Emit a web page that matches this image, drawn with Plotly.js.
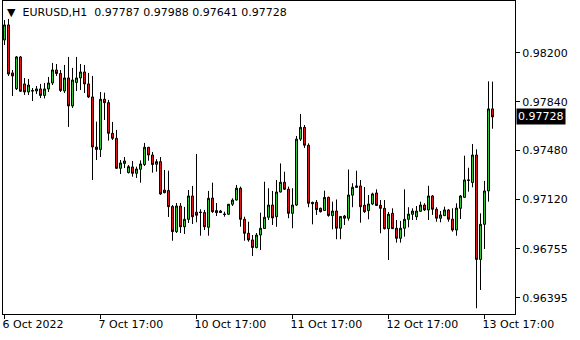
<!DOCTYPE html>
<html>
<head>
<meta charset="utf-8">
<script src="https://cdn.plot.ly/plotly-3.0.1.min.js"></script>
<style>html,body{margin:0;padding:0;background:#fff;}#chart{width:580px;height:340px;}</style>
</head>
<body>
<div id="chart"></div>
<script>
const symbolTitle = "EURUSD,H1";
const lastBar = ["0.97787", "0.97988", "0.97641", "0.97728"];

const openP = [0.98295,0.98406,0.98052,0.97936,0.98170,0.97971,0.97912,0.97923,0.97919,0.97934,
0.97886,0.97934,0.97978,0.98074,0.98048,0.97919,0.98015,0.97809,0.97982,0.98015,
0.98059,0.97971,0.97875,0.97506,0.97488,0.97858,0.97833,0.97607,0.97570,0.97349,
0.97385,0.97317,0.97359,0.97312,0.97342,0.97377,0.97504,0.97447,0.97379,0.97398,
0.97189,0.97185,0.97067,0.96882,0.97071,0.96918,0.96973,0.97145,0.97025,0.97027,
0.97023,0.96914,0.97130,0.97037,0.97034,0.97012,0.97010,0.97084,0.97115,0.97202,
0.96973,0.96870,0.96821,0.96765,0.96857,0.96905,0.96988,0.97078,0.96992,0.97174,
0.97246,0.97195,0.97017,0.97078,0.97564,0.97651,0.97519,0.97098,0.97098,0.97054,
0.97038,0.97135,0.97000,0.97034,0.96907,0.96997,0.96981,0.97151,0.97208,0.97219,
0.97077,0.97037,0.97086,0.97167,0.97076,0.97054,0.96904,0.97017,0.96907,0.96833,
0.96907,0.96973,0.97010,0.96992,0.97032,0.97078,0.97042,0.97145,0.97047,0.96981,
0.97000,0.97042,0.96974,0.96894,0.97054,0.97135,0.97259,0.97244,0.97447,0.96677,
0.96936,0.97182,0.97787];

const highP = [0.98442,0.98450,0.98074,0.98177,0.98177,0.98015,0.98008,0.97941,0.97956,0.97971,
0.97978,0.98022,0.98126,0.98118,0.98074,0.98111,0.98170,0.98089,0.98170,0.98118,
0.98111,0.98052,0.98030,0.97693,0.97912,0.97907,0.97853,0.97691,0.97632,0.97410,
0.97432,0.97373,0.97403,0.97361,0.97407,0.97536,0.97506,0.97469,0.97416,0.97432,
0.97337,0.97331,0.97078,0.97093,0.97093,0.97064,0.97189,0.97219,0.97455,0.97047,
0.97042,0.97182,0.97243,0.97093,0.97042,0.97029,0.97086,0.97128,0.97226,0.97214,
0.96992,0.96955,0.96857,0.96872,0.97022,0.97250,0.97202,0.97182,0.97263,0.97385,
0.97324,0.97214,0.97202,0.97587,0.97750,0.97668,0.97533,0.97103,0.97115,0.97059,
0.97184,0.97140,0.97103,0.97119,0.96997,0.97005,0.97340,0.97239,0.97331,0.97263,
0.97211,0.97152,0.97169,0.97194,0.97115,0.97115,0.97027,0.97054,0.96968,0.96961,
0.97194,0.97062,0.97054,0.97071,0.97103,0.97091,0.97220,0.97152,0.97062,0.97034,
0.97066,0.97049,0.97054,0.97091,0.97152,0.97442,0.97353,0.97528,0.97489,0.97017,
0.97256,0.97990,0.97988];

const lowP = [0.98258,0.98030,0.97882,0.97926,0.97912,0.97890,0.97890,0.97845,0.97897,0.97867,
0.97864,0.97912,0.97963,0.98030,0.97912,0.97904,0.97654,0.97794,0.97919,0.97926,
0.97904,0.97867,0.97263,0.97410,0.97432,0.97705,0.97553,0.97558,0.97344,0.97307,
0.97351,0.97311,0.97287,0.97278,0.97243,0.97366,0.97405,0.97317,0.97324,0.97152,
0.97165,0.96990,0.96815,0.96872,0.96872,0.96865,0.96946,0.96938,0.96951,0.96852,
0.96894,0.96852,0.97020,0.96997,0.97020,0.96992,0.97005,0.97071,0.97112,0.96918,
0.96815,0.96808,0.96703,0.96759,0.96747,0.96902,0.96968,0.96931,0.96918,0.97171,
0.97189,0.96981,0.96907,0.97071,0.97550,0.97499,0.97062,0.96936,0.97005,0.97023,
0.97034,0.96992,0.96899,0.96826,0.96826,0.96931,0.96963,0.97062,0.97204,0.96948,
0.97020,0.96973,0.97078,0.97071,0.96870,0.96898,0.96673,0.96902,0.96801,0.96801,
0.96845,0.96914,0.96968,0.96968,0.97027,0.97034,0.96968,0.97005,0.96955,0.96951,
0.96997,0.96955,0.96882,0.96852,0.96975,0.97130,0.97177,0.97209,0.96317,0.96452,
0.96754,0.97103,0.97641];

const closeP = [0.98406,0.98044,0.98030,0.98170,0.97917,0.97912,0.97963,0.97919,0.97934,0.97886,
0.97934,0.97978,0.98074,0.98048,0.97923,0.98015,0.97809,0.98000,0.98015,0.98059,
0.97971,0.97875,0.97506,0.97488,0.97858,0.97833,0.97607,0.97570,0.97349,0.97388,
0.97403,0.97361,0.97312,0.97344,0.97381,0.97504,0.97447,0.97377,0.97398,0.97160,
0.97169,0.97066,0.96882,0.97071,0.96918,0.96973,0.97145,0.96992,0.97003,0.97023,
0.96918,0.97128,0.97029,0.97022,0.97023,0.97009,0.97084,0.97115,0.97202,0.96973,
0.96870,0.96821,0.96765,0.96857,0.96907,0.96988,0.97078,0.96983,0.97174,0.97246,
0.97195,0.97017,0.97078,0.97564,0.97651,0.97519,0.97091,0.97088,0.97044,0.97029,
0.97134,0.97001,0.97034,0.96907,0.96994,0.96981,0.97152,0.97209,0.97219,0.97066,
0.97029,0.97086,0.97160,0.97075,0.97054,0.96904,0.97010,0.96904,0.96833,0.96907,
0.96973,0.97011,0.97034,0.97034,0.97078,0.97042,0.97145,0.97047,0.96981,0.97005,
0.97042,0.96974,0.96894,0.97056,0.97145,0.97263,0.97263,0.97447,0.96677,0.96936,
0.97182,0.97787,0.97728];

// bar index of each labelled hour and its label
const xTickBars = [0, 24, 48, 72, 96, 120];
const xTickLabels = ["6 Oct 2022", "7 Oct 17:00", "10 Oct 17:00", "11 Oct 17:00", "12 Oct 17:00", "13 Oct 17:00"];
const yTickVals = [0.98200, 0.97840, 0.97480, 0.97120, 0.96755, 0.96395];
const yTickLabels = ["0.98200", "0.97840", "0.97480", "0.97120", "0.96755", "0.96395"];
const currentPrice = 0.97728;

const barIndex = openP.map((_, i) => i);

const trace = {
  type: 'candlestick',
  x: barIndex,
  open: openP, high: highP, low: lowP, close: closeP,
  increasing: {line: {color: '#000000', width: 1}, fillcolor: '#32c832'},
  decreasing: {line: {color: '#000000', width: 1}, fillcolor: '#e01414'},
  whiskerwidth: 0,
  hoverinfo: 'none'
};

const font = {family: 'DejaVu Sans, sans-serif', size: 11, color: '#000000'};

const layout = {
  width: 580, height: 340,
  margin: {l: 3, r: 65, t: 1, b: 26, pad: 0},
  paper_bgcolor: '#ffffff', plot_bgcolor: '#ffffff',
  showlegend: false,
  font: font,
  boxgap: 0.5,
  boxgroupgap: 0,
  xaxis: {
    type: 'linear',
    range: [-0.375, 127.625],
    rangeslider: {visible: false},
    showgrid: false, zeroline: false,
    showline: true, linecolor: '#000', linewidth: 1, mirror: true,
    ticks: 'outside', ticklen: 4, tickcolor: '#000', tickwidth: 1,
    tickvals: xTickBars, ticktext: xTickLabels,
    ticklabelposition: 'outside right',
    ticklabelshift: -3,
    tickfont: font
  },
  yaxis: {
    side: 'right',
    range: [0.962748, 0.985824],
    showgrid: false, zeroline: false,
    showline: true, linecolor: '#000', linewidth: 1, mirror: true,
    ticks: 'outside', ticklen: 4, tickcolor: '#000', tickwidth: 1,
    tickvals: yTickVals, ticktext: yTickLabels,
    tickfont: font
  },
  annotations: [
    {
      xref: 'paper', yref: 'paper', x: 0, y: 1, xanchor: 'left', yanchor: 'top',
      xshift: 2, yshift: -3, showarrow: false,
      text: '▼\u00a0 ' + symbolTitle + '\u00a0\u00a0' + lastBar.join(' '),
      font: font
    },
    {
      xref: 'paper', yref: 'y', x: 1, y: currentPrice, xanchor: 'left', yanchor: 'middle',
      xshift: 1, showarrow: false,
      text: currentPrice.toFixed(5),
      bgcolor: '#000000', borderpad: 1,
      font: {family: 'DejaVu Sans, sans-serif', size: 11, color: '#ffffff'}
    }
  ]
};

Plotly.newPlot('chart', [trace], layout, {staticPlot: true, displayModeBar: false});
</script>
</body>
</html>
